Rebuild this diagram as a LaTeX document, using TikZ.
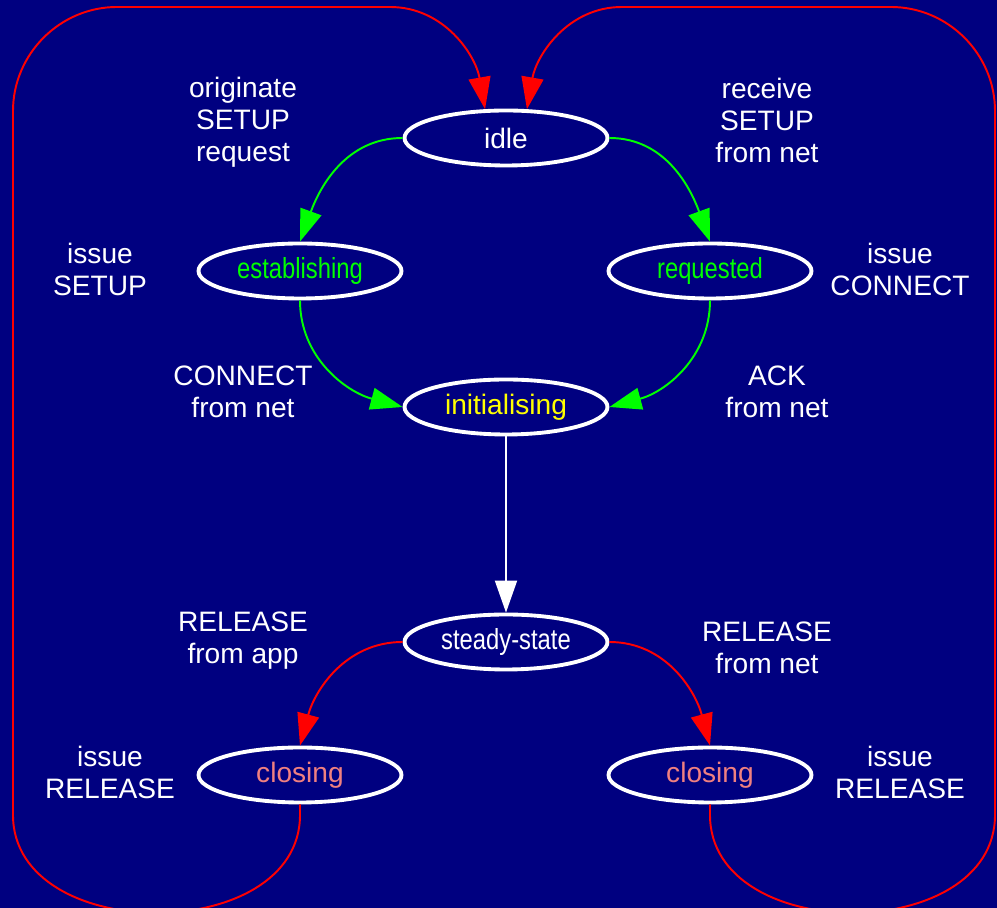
\documentclass[tikz,border=0pt]{standalone}
\usepackage{fontspec}
\setmainfont{Liberation Sans}
\newfontfamily\narrowfont[FakeStretch=0.82]{Liberation Sans}
\definecolor{bgnavy}{RGB}{0, 0, 128}
\definecolor{gored}{RGB}{255, 0, 0}
\definecolor{gogreen}{RGB}{0, 255, 0}
\definecolor{inityellow}{RGB}{255, 255, 0}
\definecolor{closesalmon}{RGB}{240, 128, 128}
\usetikzlibrary{shapes.geometric, arrows.meta, positioning}

\tikzset{
  state/.style={ellipse, draw=white, line width=2.2pt, minimum width=4.06cm,
    minimum height=1.10cm, inner sep=0pt, font=\fontsize{16}{18.2}\selectfont},
  note/.style={white, align=center, font=\fontsize{16}{18.2}\selectfont},
  tip/.style={-{Triangle[length=0.64cm, width=0.44cm]}, line width=1.1pt},
  open/.style={tip, gogreen},
  shut/.style={tip, gored},
}

\begin{document}
\begin{tikzpicture}
  \useasboundingbox (0, 0) rectangle (19.94, 18.16);
  \fill[bgnavy] (0, 0) rectangle (19.94, 18.16);
  \clip (0, 0) rectangle (19.94, 18.16);

  % States
  \node[state, text=white] (idle) at (10.12, 15.40) {idle};
  \node[state, text=gogreen, font=\fontsize{16.5}{18.2}\narrowfont] (estab) at (6.00, 12.74) {establishing};
  \node[state, text=gogreen, font=\fontsize{16.5}{18.2}\narrowfont] (req) at (14.20, 12.74) {requested};
  \node[state, text=inityellow] (init) at (10.12, 10.02) {initialising};
  \node[state, text=white, font=\fontsize{16.5}{18.2}\narrowfont] (steady) at (10.12, 5.32) {steady-state};
  \node[state, text=closesalmon] (closeL) at (6.00, 2.66) {closing};
  \node[state, text=closesalmon] (closeR) at (14.20, 2.66) {closing};

  % Event and action labels
  \node[note] (origin) at (4.86, 15.72) {originate\\SETUP\\request};
  \node[note] (receive) at (15.34, 15.76) {receive\\SETUP\\from net};
  \node[note] (connNet) at (4.86, 10.32) {CONNECT\\from net};
  \node[note] (ackNet) at (15.54, 10.32) {ACK\\from net};
  \node[note] (relApp) at (4.86, 5.34) {RELEASE\\from app};
  \node[note] (relNet) at (15.34, 5.20) {RELEASE\\from net};
  \foreach \name/\x/\y/\what in {issueSetup/2.00/12.78/SETUP, issueConn/18.00/12.78/CONNECT,
      issueRelL/2.20/2.72/RELEASE, issueRelR/18.00/2.72/RELEASE} {
    \node[note] (\name) at (\x, \y) {issue\\\what};
  }

  % Setting up
  \draw[open] (idle.west) to[out=180, in=70] (estab.north);
  \draw[open] (idle.east) to[out=0, in=110] (req.north);
  \draw[open] (estab.south) to[out=-90, in=165] (init.west);
  \draw[open] (req.south) to[out=-90, in=15] (init.east);
  \draw[tip, white] (init.south) -- (steady.north);

  % Tearing down
  \draw[shut] (steady.west) to[out=180, in=75] (closeL.north);
  \draw[shut] (steady.east) to[out=0, in=105] (closeR.north);

  % Back round to idle
  \draw[shut] (closeL.south) -- (6.00, 1.86) .. controls (6.00, -0.75) and (0.26, -0.75) .. (0.26, 1.86)
    -- (0.26, 15.94) .. controls (0.26, 17.08) and (1.20, 18.02) .. (2.34, 18.02)
    -- (7.80, 18.02) to[out=0, in=100] (idle.126);
  \draw[shut] (closeR.south) -- (14.20, 1.86) .. controls (14.20, -0.75) and (19.90, -0.75) .. (19.90, 1.86)
    -- (19.90, 15.94) .. controls (19.90, 17.08) and (18.96, 18.02) .. (17.82, 18.02)
    -- (12.44, 18.02) to[out=180, in=80] (idle.54);
\end{tikzpicture}
\end{document}
